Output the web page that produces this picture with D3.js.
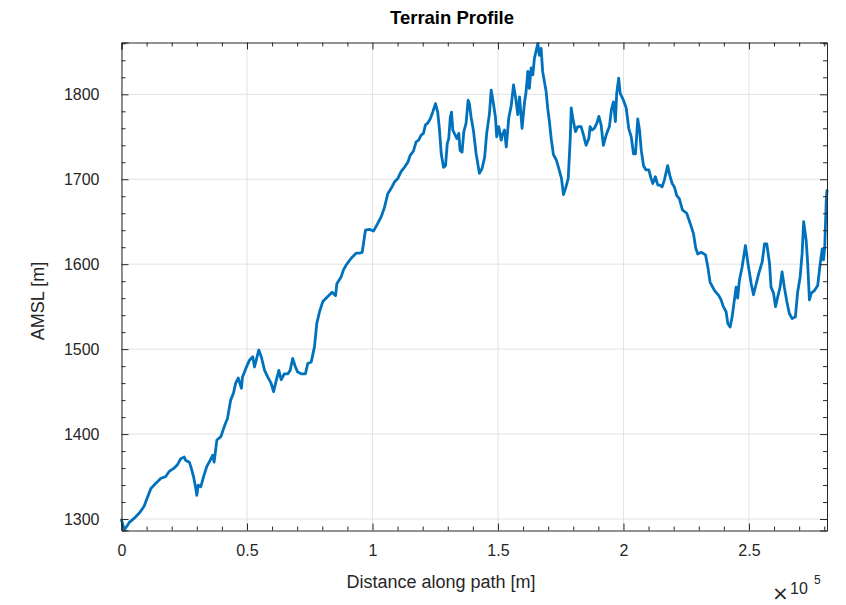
<!DOCTYPE html>
<html>
<head>
<meta charset="utf-8">
<script src="https://cdn.jsdelivr.net/npm/d3@7/dist/d3.min.js"></script>
<style>
  html, body { margin: 0; padding: 0; background: #fff; }
  svg { display: block; font-family: "Liberation Sans", Arial, Helvetica, sans-serif; }
</style>
</head>
<body>
<svg id="chart" width="846" height="605"></svg>
<script>
// Distance along the path (m)
const distance = [
  0, 1100, 3100, 5100, 7100, 9000, 10400, 11700, 13700, 15700, 17600, 19000, 21000, 22300, 23600, 25000,
  25600, 27000, 27600, 28700, 29600, 30000, 30600, 31600, 32700, 34000, 35300, 36300, 36900, 38000, 39600,
  41200, 42200, 43500, 44600, 45500, 46500, 47800, 48200, 49500, 51000, 52300, 53000, 54700, 55700, 57000,
  58300, 59600, 60600, 61400, 62700, 63600, 64900, 66300, 67200, 68200, 69300, 70200, 71600, 73300, 74200,
  75600, 76900, 77800, 78900, 80200, 82200, 83900, 85300, 85800, 87500, 88400, 89500, 91500, 93500, 94800,
  95900, 97200, 98800, 100400, 102100, 103500, 104800, 106100, 107400, 108800, 110100, 111400, 112700,
  114100, 115000, 116300, 117400, 118400, 119400, 120300, 121100, 122000, 123000, 124000, 125100, 126000,
  126700, 127400, 128300, 129100, 129800, 130400, 131000, 131500, 132000, 133600, 134400, 134900, 135700,
  136400, 137300, 138100, 138600, 139300, 140200, 141300, 142600, 143700, 144700, 145500, 146600, 147300,
  148200, 149000, 149500, 150300, 151300, 151700, 152600, 153300, 154300, 155300, 156200, 157000, 157900,
  158600, 159600, 160600, 161200, 161900, 162500, 163200, 163900, 164500, 165900, 166500, 167200, 167800,
  169200, 169800, 170500, 171200, 172100, 173200, 174200, 175300, 176100, 176900, 178000, 178800, 179200,
  179800, 180900, 181800, 183100, 184100, 185100, 186200, 186700, 187500, 188400, 189400, 190200, 191100,
  192000, 193100, 194400, 195200, 196000, 196800, 197300, 198100, 198700, 200000, 201100, 202100, 203100,
  204000, 204800, 205700, 206400, 207100, 208000, 209000, 210100, 211000, 211700, 212700, 213700, 214600,
  215400, 216300, 217600, 218600, 219400, 220300, 221200, 222300, 223500, 225200, 226600, 227900, 228800,
  229600, 231000, 232700, 233600, 234500, 236300, 238000, 238900, 239800, 240900, 241600, 242500, 243300,
  244200, 244900, 245500, 246200, 247300, 248600, 249500, 250900, 251800, 252900, 253900, 255300, 256200,
  257100, 258200, 258800, 259800, 260600, 261500, 262400, 263200, 264100, 265100, 266100, 267200, 268500,
  269400, 270400, 271200, 271800, 272800, 273400, 274100, 274800, 276100, 277400, 278400, 279200, 279700,
  280200, 280800, 281100
];

// Elevation above mean sea level (m)
const elevation = [
  1299, 1287, 1296, 1301, 1307, 1315, 1326, 1336, 1342, 1348, 1350, 1356, 1360, 1364, 1371, 1373,
  1369, 1367, 1362, 1350, 1336, 1328, 1340, 1338, 1350, 1362, 1369, 1375, 1367, 1393, 1397,
  1411, 1418, 1440, 1448, 1460, 1466, 1454, 1467, 1477, 1487, 1491, 1479, 1499, 1491, 1475,
  1467, 1460, 1450, 1460, 1475, 1464, 1471, 1471, 1475, 1489, 1479, 1473, 1471, 1471, 1483,
  1485, 1503, 1530, 1544, 1556, 1562, 1567, 1563, 1577, 1585, 1593, 1599, 1607, 1613, 1613,
  1614, 1640, 1641, 1639, 1648, 1656, 1667, 1683, 1689, 1697, 1701, 1709, 1714,
  1720, 1728, 1733, 1744, 1746, 1752, 1754, 1764, 1766, 1771, 1779, 1789, 1779,
  1758, 1730, 1714, 1716, 1742, 1748, 1773, 1779, 1758, 1748, 1754, 1734, 1732,
  1756, 1766, 1793, 1789, 1773, 1758, 1730, 1707, 1713, 1726, 1754, 1777, 1805,
  1789, 1773, 1750, 1762, 1746, 1752, 1758, 1738, 1772, 1787, 1811, 1797, 1776,
  1797, 1760, 1791, 1803, 1827, 1807, 1831, 1823, 1842, 1860, 1846, 1854, 1827,
  1803, 1784, 1768, 1748, 1729, 1723, 1713, 1701, 1682, 1689, 1701, 1748, 1784,
  1772, 1756, 1762, 1762, 1752, 1740, 1748, 1762, 1758, 1760, 1766, 1774, 1764,
  1740, 1752, 1762, 1782, 1791, 1768, 1801, 1819, 1801, 1793, 1784, 1760, 1750,
  1730, 1730, 1771, 1758, 1734, 1716, 1711, 1711, 1701, 1695, 1703, 1693, 1693,
  1691, 1699, 1716, 1703, 1695, 1691, 1681, 1677, 1664, 1660, 1648, 1636, 1619,
  1612, 1614, 1611, 1597, 1579, 1569, 1563, 1558, 1550, 1544, 1530, 1526, 1538,
  1558, 1573, 1560, 1581, 1597, 1622, 1603, 1577, 1564, 1577, 1589, 1603, 1624,
  1624, 1601, 1573, 1566, 1550, 1562, 1573, 1591, 1573, 1556, 1542, 1536, 1538,
  1567, 1585, 1613, 1650, 1628, 1601, 1558, 1566, 1569, 1575, 1601, 1618, 1605,
  1620, 1675, 1687
];

const xTicks = [0, 50000, 100000, 150000, 200000, 250000];
const xTickLabels = ["0", "0.5", "1", "1.5", "2", "2.5"];
const yTicks = [1300, 1400, 1500, 1600, 1700, 1800];
const yTickLabels = ["1300", "1400", "1500", "1600", "1700", "1800"];

const profile = distance.map((d, i) => ({ d, h: elevation[i] }));

const svg = d3.select("#chart");
const plot = { left: 121.5, top: 42.5, right: 827, bottom: 530.5 };

const x = d3.scaleLinear().domain([0, 281100]).range([plot.left, plot.right]);
const y = d3.scaleLinear().domain([1286.5, 1861]).range([plot.bottom, plot.top]);

const axisColor = "#262626";
const gridColor = "#e3e3e3";
const font = '"Liberation Sans", Arial, Helvetica, sans-serif';

// Grid
const grid = svg.append("g");
grid.selectAll("line.gx").data(xTicks).join("line")
  .attr("x1", d => x(d)).attr("x2", d => x(d))
  .attr("y1", plot.top).attr("y2", plot.bottom)
  .attr("stroke", gridColor).attr("stroke-width", 1);
grid.selectAll("line.gy").data(yTicks).join("line")
  .attr("x1", plot.left).attr("x2", plot.right)
  .attr("y1", d => y(d)).attr("y2", d => y(d))
  .attr("stroke", gridColor).attr("stroke-width", 1);

// Terrain line
const line = d3.line().x(p => x(p.d)).y(p => y(p.h));
svg.append("path")
  .datum(profile)
  .attr("d", line)
  .attr("fill", "none")
  .attr("stroke", "#0072BD")
  .attr("stroke-width", 2.8)
  .attr("stroke-linejoin", "round")
  .attr("stroke-linecap", "round");

// Axes with inward ticks on all four sides
const xMinor = d3.range(10000, 281100, 10000).filter(v => v % 50000 !== 0);
const yMinor = d3.range(1300, 1861, 20).filter(v => v % 100 !== 0);

function axisSet(axis, scale, major, minor, offset, fmt, pad) {
  const g = svg.append("g").attr("transform", offset);
  g.call(axis(scale).tickValues(major).tickSize(-7).tickPadding(pad || 0).tickFormat(fmt || (() => "")));
  g.append("g").call(axis(scale).tickValues(minor).tickSize(-4).tickFormat(() => ""))
    .call(s => s.select(".domain").remove());
  g.selectAll(".domain").attr("stroke", axisColor).attr("stroke-width", 1);
  g.selectAll(".tick line").attr("stroke", axisColor).attr("stroke-width", 1);
  g.selectAll(".tick text").attr("fill", axisColor).style("font-size", "16px").style("font-family", font);
  return g;
}

// axisBottom with negative tick size points upward (inward)
axisSet(d3.axisBottom, x, xTicks, xMinor, `translate(0,${plot.bottom})`, (d, i) => xTickLabels[i], 14);
axisSet(d3.axisTop, x, xTicks, xMinor, `translate(0,${plot.top})`, null);
axisSet(d3.axisLeft, y, yTicks, yMinor, `translate(${plot.left},0)`, (d, i) => yTickLabels[i], 22);
axisSet(d3.axisRight, y, yTicks, yMinor, `translate(${plot.right},0)`, null);

// Title and labels
svg.append("text")
  .attr("x", 452).attr("y", 24)
  .attr("text-anchor", "middle")
  .attr("font-weight", "bold").attr("font-size", 18.5).attr("fill", "#000")
  .text("Terrain Profile");

svg.append("text")
  .attr("x", 441).attr("y", 588)
  .attr("text-anchor", "middle")
  .attr("font-size", 18).attr("fill", axisColor)
  .text("Distance along path [m]");

svg.append("text")
  .attr("transform", "translate(44,301) rotate(-90)")
  .attr("text-anchor", "middle")
  .attr("font-size", 18).attr("fill", axisColor)
  .text("AMSL [m]");

// Exponent label for the distance axis
svg.append("text").attr("x", 772).attr("y", 600)
  .attr("font-size", 20).attr("font-family", '"DejaVu Sans", sans-serif')
  .attr("fill", axisColor).text("\u00d7");
svg.append("text").attr("x", 790).attr("y", 594)
  .attr("font-size", 16).attr("fill", axisColor).text("10");
svg.append("text").attr("x", 814).attr("y", 584)
  .attr("font-size", 12).attr("fill", axisColor).text("5");
</script>
</body>
</html>
